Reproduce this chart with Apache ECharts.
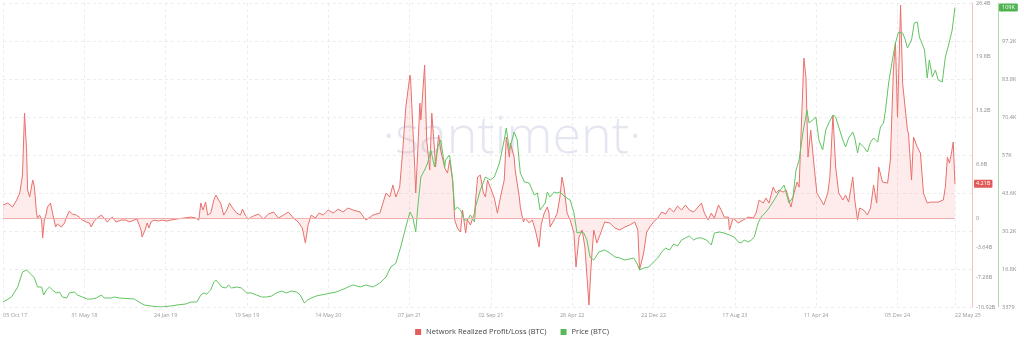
<!DOCTYPE html>
<html><head><meta charset="utf-8">
<script src="https://cdn.jsdelivr.net/npm/echarts@6/dist/echarts.min.js"></script>
<style>html,body{margin:0;padding:0;background:#fff}#c{width:1024px;height:340px}</style>
</head><body><div id="c"></div>
<script>
// ---- DATA (days counted from 05 Oct 2017) ----
const startDate = '2017-10-05';
const tickDates = ['2017-10-05','2018-05-31','2019-01-24','2019-09-19','2020-05-14','2021-01-07','2021-09-02','2022-04-28','2022-12-22','2023-08-17','2024-04-11','2024-12-05','2025-05-22'];
const axisEndDate = '2025-07-11';

const plDays = [0,14,28,40,49,55,57,63,69,72,78,87,92,98,101,107,113,116,121,127,130,139,145,154,159,171,180,186,194,203,215,223,232,244,253,258,267,276,288,296,305,320,331,346,360,369,384,392,404,407,416,422,427,433,442,456,465,480,491,509,529,550,564,573,579,585,593,599,608,617,623,631,637,646,655,663,672,684,695,701,710,719,727,733,748,762,777,792,806,821,835,850,864,876,885,893,902,914,925,937,952,966,981,995,1010,1025,1045,1062,1083,1103,1112,1121,1132,1141,1150,1161,1170,1179,1191,1193,1205,1208,1214,1220,1223,1234,1240,1249,1255,1263,1266,1275,1281,1293,1301,1307,1316,1322,1330,1339,1345,1354,1359,1368,1380,1389,1397,1406,1412,1418,1426,1438,1447,1456,1467,1473,1482,1485,1496,1499,1511,1514,1523,1528,1540,1549,1558,1569,1575,1584,1593,1598,1601,1613,1622,1630,1636,1642,1651,1660,1671,1677,1686,1695,1703,1715,1721,1729,1738,1747,1761,1776,1791,1805,1820,1834,1849,1858,1863,1875,1884,1893,1904,1916,1928,1939,1951,1963,1974,1986,1997,2009,2021,2032,2044,2053,2064,2073,2082,2094,2102,2111,2123,2126,2137,2152,2166,2181,2196,2204,2213,2225,2233,2242,2254,2263,2271,2283,2292,2298,2306,2315,2324,2330,2335,2344,2350,2356,2364,2373,2382,2394,2402,2414,2420,2429,2437,2446,2458,2466,2475,2487,2493,2501,2507,2519,2530,2539,2548,2557,2563,2574,2589,2597,2606,2612,2618,2627,2633,2638,2647,2650,2659,2665,2676,2685,2694,2705,2714,2723,2737,2752,2758,2764,2770,2776,2781,2786];
const plValues = [1.6,1.84,1.35,2.21,3.07,4.66,5.28,12.88,8.34,3.44,2.58,4.66,3.80,0.61,0,0.37,-0.25,-2.45,-0.25,0.61,1.35,1.84,0.61,-1.10,-0.74,-1.10,-0.61,0.12,0.86,0.49,0.37,0.12,-0.25,-0.49,-0.61,-1.10,-0.37,0,0.37,0,-0.49,0.12,-0.49,-0.25,-0.25,-0.49,-0.25,-0.12,-1.47,-2.33,-1.47,-0.61,-1.23,-0.49,-0.25,-0.37,-0.25,-0.37,-0.25,-0.12,0,0.12,0,-0.25,1.84,0.98,1.96,0.37,0.61,2.21,2.82,2.21,1.84,0.37,0.98,1.84,1.23,0.61,0.37,1.10,0.25,-0.12,0.12,0.25,0.49,-0.12,0.49,0.74,0,0.37,0.74,0,-0.49,-1.23,-3.07,-0.86,0.37,0,0.61,0.37,0.98,0.61,1.10,0.74,1.23,0.98,0.74,-0.25,0.37,0.61,1.84,3.07,2.58,4.05,2.58,3.80,8.34,13.62,17.55,16.93,6.26,3.07,8.34,14.11,12.02,18.77,9.57,5.89,12.88,8.34,6.26,10.18,8.34,6.13,5.52,7.12,4.66,-0.25,-1.23,-1.72,0.98,-1.84,-0.25,-0.86,0.61,5.03,5.28,3.07,2.58,4.66,3.80,2.45,0.61,2.58,4.66,9.94,7.48,9.20,7.48,5.89,2.58,1.35,-0.49,0,-0.61,-0.25,-1.47,-3.56,-0.86,0.61,1.35,0.61,-1.10,-0.25,0.61,2.58,5.03,3.80,0.61,-0.25,-1.84,-6.01,-2.33,-1.47,-3.56,-10.67,-6.01,-1.47,-3.07,-2.09,-0.49,-0.61,-1.23,-1.47,-1.10,-0.86,-0.49,-1.47,-6.38,-4.29,-1.72,-1.10,-0.49,0,0.74,0.49,1.23,0.74,1.47,0.98,1.60,0.98,0.74,1.23,1.84,0.61,-0.25,0.61,0,1.60,0.98,0.12,0.12,-1.47,0,-0.61,-0.25,0.12,0,0.61,2.21,1.84,2.45,1.84,3.80,3.07,3.44,3.19,3.44,2.58,1.35,3.07,4.42,3.80,9.57,19.63,17.30,7.48,10.80,6.75,3.07,2.21,1.60,3.07,5.03,12.64,6.26,3.07,2.21,2.82,1.96,5.03,2.21,-0.25,1.23,0.98,0.37,1.23,4.05,1.84,6.26,4.42,4.29,7.12,18.16,21.60,12.39,26.13,16.56,14.48,10.80,10.43,4.66,9.94,8.71,7.98,3.07,1.84,1.96,1.96,1.96,2.21,3.80,7.48,6.75,7.98,9.33,4.21];

const priceDays = [0,25,43,57,69,84,92,101,113,119,127,136,145,156,165,174,186,194,209,218,232,247,261,273,288,296,317,325,340,384,398,413,433,462,491,509,535,550,567,579,588,596,608,617,623,631,640,652,660,669,684,698,713,727,742,757,771,786,800,815,829,844,859,870,882,891,902,917,931,946,960,975,990,1004,1016,1025,1045,1062,1083,1103,1121,1135,1150,1164,1179,1191,1199,1208,1214,1223,1234,1243,1252,1263,1272,1281,1293,1295,1307,1316,1322,1330,1339,1351,1359,1368,1380,1383,1397,1412,1426,1438,1453,1467,1473,1482,1496,1505,1514,1526,1540,1555,1564,1572,1587,1593,1601,1613,1622,1630,1645,1660,1671,1680,1689,1700,1709,1718,1729,1744,1761,1776,1791,1805,1820,1846,1855,1863,1875,1890,1904,1916,1928,1939,1951,1963,1974,1986,1997,2009,2021,2032,2044,2059,2073,2082,2097,2111,2126,2140,2152,2161,2169,2181,2190,2199,2210,2219,2233,2242,2257,2271,2286,2300,2312,2321,2330,2341,2353,2359,2370,2379,2388,2399,2408,2417,2429,2437,2446,2458,2466,2475,2487,2493,2501,2507,2519,2530,2539,2548,2560,2568,2577,2583,2592,2603,2612,2621,2633,2641,2647,2659,2667,2676,2682,2688,2697,2705,2711,2720,2729,2737,2749,2758,2766,2778,2786];
const priceValues = [5142,6905,10431,15720,16425,14662,13604,10431,10431,7610,9373,10431,9373,8315,8668,6905,6552,8315,8668,7610,6905,6200,6200,6552,7610,6552,6552,6905,6552,6200,5142,4084,3732,3379,3732,4084,4437,5142,5142,7610,8315,7963,9373,12194,12899,11841,10431,10078,11136,10078,10431,10078,8315,8315,7610,6905,6905,7258,8315,9021,8315,9021,8668,7610,4790,5847,6552,7258,7610,7963,8315,8668,9373,10078,10783,11136,10431,11136,10431,11841,13957,17483,18893,24535,31587,36876,35113,29824,38639,49217,51685,54153,58737,52743,59795,62263,52743,55211,56974,48159,37581,38639,37581,34055,34055,35818,33350,38639,44633,49217,48159,49217,54153,62263,66494,58737,65084,62263,50627,47453,47101,42870,43575,37581,40049,43928,42165,43928,43575,43928,42165,41107,36523,29471,29824,29471,27003,21009,19951,22772,23477,22419,21009,20656,19951,20656,18893,16425,17130,17483,19245,20656,22772,24182,23477,25593,24888,27003,27708,28414,27003,27708,27708,27003,25240,29471,29824,29471,28766,28061,26298,25946,27003,26298,27003,28061,32997,35113,36876,38286,41107,43928,46396,40049,42165,51685,55211,64731,72841,68257,69315,70373,62263,58737,65789,68257,71078,70373,66847,62263,59795,62968,65084,62968,57679,61205,59795,58032,61558,62968,61558,66847,68257,72841,82361,90471,96465,100343,99991,97523,94702,97523,103517,103870,98581,96818,93997,84124,90471,84477,86945,83419,82714,91529,95055,101049,109000];

const plTicks = [-10.92,-7.28,-3.64,0,6.6,13.2,19.8,26.4];
const priceTicks = [3379,16779,30179,43579,56979,70379,83779,97179,110579];
const seriesNames = ['Network Realized Profit/Loss (BTC)','Price (BTC)'];

// ---- helpers ----
const DAY = 86400000;
const T0 = Date.parse(startDate);
const toT = d => T0 + d * DAY;
const MONTHS = ['Jan','Feb','Mar','Apr','May','Jun','Jul','Aug','Sep','Oct','Nov','Dec'];
const pad = n => (n < 10 ? '0' : '') + n;
function fmtDate(ts){ const d = new Date(ts); return pad(d.getUTCDate())+' '+MONTHS[d.getUTCMonth()]+' '+pad(d.getUTCFullYear()%100); }
const fmtPL = v => v === 0 ? '0' : (+v.toFixed(2)) + 'B';
const fmtPrice = v => v < 10000 ? String(v) : (+(v/1000).toFixed(1)) + 'K';

const tickTs = tickDates.map(s => Date.parse(s));
const lastTickTs = tickTs[tickTs.length-1];
const plData = plDays.map((d,i) => [toT(d), plValues[i]]);
const priceData = priceDays.map((d,i) => [toT(d), priceValues[i]]);
const lastPL = plValues[plValues.length-1];
const lastPrice = priceValues[priceValues.length-1];

const RED = '#e8706c', GREEN = '#62c462';
const font = '"Open Sans", "Noto Sans", sans-serif';

const chart = echarts.init(document.getElementById('c'), null, {renderer:'canvas'});
chart.setOption({
  animation:false,
  textStyle:{fontFamily:font},
  graphic:[{
    type:'text', left:'center', top:112, z:-10, silent:true,
    style:{text:'·santiment·', font:'300 52px "Open Sans", sans-serif', fill:'rgba(206,210,230,0.55)'}
  }],
  legend:{
    data:seriesNames, bottom:4, left:'center', padding:0, icon:'rect', itemWidth:6, itemHeight:6, itemGap:14,
    textStyle:{fontSize:7.5, color:'#444', fontFamily:font}
  },
  grid:{left:0, right:52, top:3, bottom:33, containLabel:false},
  xAxis:{
    type:'value', min:T0, max:Date.parse(axisEndDate), scale:true,
    axisLine:{show:false},
    axisTick:{show:false, customValues:tickTs},
    splitLine:{show:true, lineStyle:{color:'#ececec', type:[3,3], width:1}},
    axisLabel:{
      customValues:tickTs, fontSize:5.5, color:'#9a9a9a', margin:5, alignMinLabel:'left', showMaxLabel:true,
      formatter:(v)=> v === lastTickTs ? '{e|'+fmtDate(v)+'}' : fmtDate(v),
      rich:{e:{padding:[0,0,0,26], fontSize:5.5, color:'#9a9a9a'}}
    }
  },
  yAxis:[{
    type:'value', position:'right', min:-10.92, max:26.4, offset:0,
    axisLine:{show:true, lineStyle:{color:'#f3c3c1', width:1}},
    axisTick:{show:false, customValues:plTicks},
    splitLine:{show:false},
    axisLabel:{customValues:plTicks, fontSize:5.5, color:'#8a8a8a', margin:4, formatter:fmtPL}
  },{
    type:'value', position:'right', min:priceTicks[0], max:priceTicks[priceTicks.length-1], offset:26,
    axisLine:{show:true, lineStyle:{color:'#a9dca9', width:1}},
    axisTick:{show:false, customValues:priceTicks},
    splitLine:{show:true, lineStyle:{color:'#ececec', type:[3,3], width:1}},
    axisLabel:{customValues:priceTicks.slice(0,-1), fontSize:5.5, color:'#8a8a8a', margin:4, formatter:fmtPrice}
  }],
  series:[{
    name:seriesNames[0], type:'line', yAxisIndex:0, data:plData, showSymbol:false, symbol:'none',
    lineStyle:{color:RED, width:1}, itemStyle:{color:'#e35d5b'},
    areaStyle:{color:'rgba(242,120,116,0.2)', origin:0},
    z:3,
    markLine:{
      silent:true, symbol:['none','none'], animation:false,
      data:[
        [{coord:[plData[0][0],0], lineStyle:{color:'#f0b0ad', width:1, type:'solid'}, label:{show:false}},
         {coord:[plData[plData.length-1][0],0]}],
        {yAxis:lastPL, lineStyle:{color:'rgba(0,0,0,0)', width:0},
         label:{show:true, position:'end', distance:2, formatter:fmtPL(lastPL), color:'#fff', backgroundColor:'#e05a58',
                padding:[1,2,1,2], borderRadius:1, fontSize:5.5, fontFamily:font}}
      ]
    }
  },{
    name:seriesNames[1], type:'line', yAxisIndex:1, data:priceData, showSymbol:false, symbol:'none',
    lineStyle:{color:GREEN, width:1}, itemStyle:{color:'#58b858'}, z:4,
    markLine:{
      silent:true, symbol:['none','none'], animation:false,
      data:[
        {yAxis:lastPrice, lineStyle:{color:'rgba(0,0,0,0)', width:0},
         label:{show:true, position:'end', distance:[27,0], formatter:fmtPrice(lastPrice), color:'#fff', backgroundColor:'#4fb34f',
                padding:[1,3,1,3], borderRadius:1, fontSize:5.5, fontFamily:font}}
      ]
    }
  }]
});
</script></body></html>
